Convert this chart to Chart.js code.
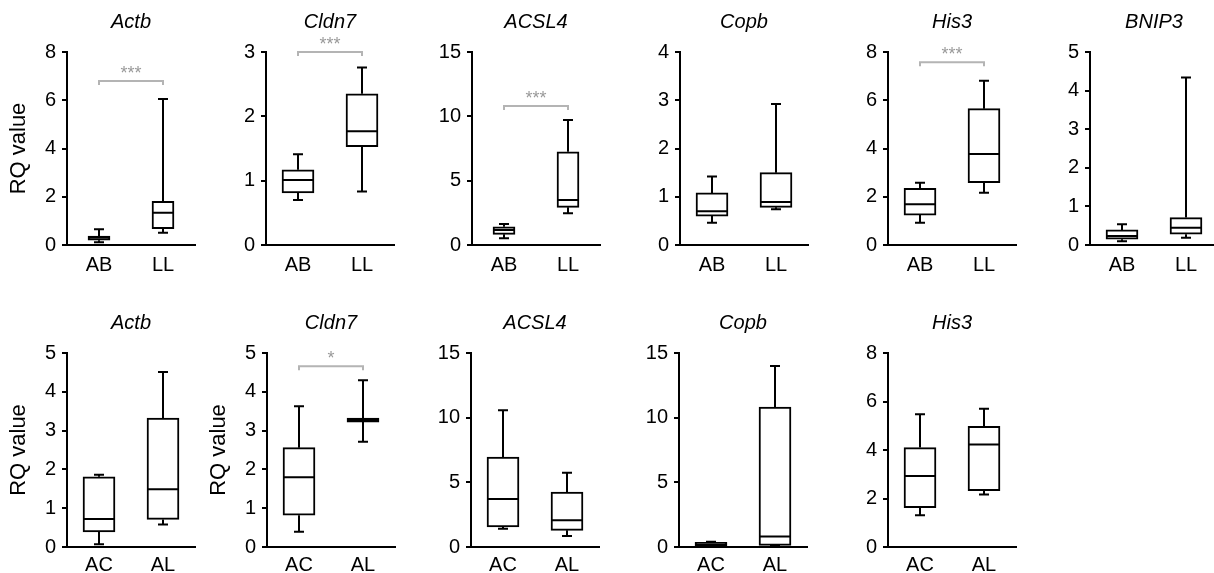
<!DOCTYPE html>
<html>
<head>
<meta charset="utf-8">
<script src="https://cdn.jsdelivr.net/npm/chart.js@4.4.1/dist/chart.umd.min.js"></script>
<style>
    body { margin: 0; background: #fff; width: 1214px; height: 573px; overflow: hidden; position: relative; }
    canvas { position: absolute; }
</style>
</head>
<body>
<script>
// top row: AB vs LL
var topGenes = ['Actb', 'Cldn7', 'ACSL4', 'Copb', 'His3', 'BNIP3'];
var topGroups = ['AB', 'LL'];
var topMax = [8, 3, 15, 4, 8, 5];
var topStep = [2, 1, 5, 1, 2, 1];
// box stats per gene: [min, q1, median, q3, max]
var topAB = [
    [0.11, 0.20, 0.30, 0.37, 0.65],
    [0.70, 0.81, 1.01, 1.17, 1.41],
    [0.52, 0.83, 1.17, 1.42, 1.63],
    [0.46, 0.60, 0.70, 1.08, 1.42],
    [0.92, 1.24, 1.69, 2.35, 2.58],
    [0.10, 0.15, 0.23, 0.39, 0.54]
];
var topLL = [
    [0.51, 0.68, 1.34, 1.81, 6.05],
    [0.83, 1.53, 1.77, 2.35, 2.76],
    [2.46, 2.93, 3.50, 7.25, 9.72],
    [0.74, 0.78, 0.89, 1.50, 2.92],
    [2.17, 2.58, 3.77, 5.65, 6.81],
    [0.19, 0.28, 0.45, 0.71, 4.34]
];
var topStars = ['***', '***', '***', '', '***', ''];
var topStarLevel = [6.8, 3.0, 10.8, null, 7.57, null];

// bottom row: AC vs AL
var botGenes = ['Actb', 'Cldn7', 'ACSL4', 'Copb', 'His3'];
var botGroups = ['AC', 'AL'];
var botMax = [5, 5, 15, 15, 8];
var botStep = [1, 1, 5, 5, 2];
var botAC = [
    [0.07, 0.39, 0.72, 1.81, 1.86],
    [0.39, 0.82, 1.80, 2.56, 3.63],
    [1.42, 1.55, 3.71, 6.96, 10.57],
    [0.08, 0.10, 0.20, 0.36, 0.40],
    [1.31, 1.62, 2.93, 4.10, 5.47]
];
var botAL = [
    [0.58, 0.71, 1.49, 3.32, 4.51],
    [2.71, 3.22, 3.27, 3.32, 4.30],
    [0.85, 1.29, 2.06, 4.25, 5.75],
    [0.08, 0.13, 0.82, 10.82, 14.0],
    [2.17, 2.32, 4.23, 4.98, 5.70]
];
var botStars = ['', '*', '', '', ''];
var botStarLevel = [null, 4.66, null, null, null];

// layout
var topAxisX = [67, 266, 472, 680, 888, 1090];
var topBoxW = [22, 32, 22, 32, 32, 32];
var botAxisX = [67, 267, 471, 679, 888];
var botBoxW = [32, 32, 32, 32, 32];

Chart.defaults.font.family = "'Liberation Sans', Arial, sans-serif";

var boxPlugin = {
    id: 'boxes',
    afterDatasetsDraw: function(chart) {
        var cfg = chart.options.plugins.boxes;
        var ctx = chart.ctx;
        var y = chart.scales.y;
        var bars = chart.getDatasetMeta(0).data;
        ctx.save();
        ctx.strokeStyle = '#000';
        ctx.lineWidth = 2;
        bars.forEach(function(bar, i) {
            var s = cfg.stats[i];
            var half = bar.width / 2;
            ctx.beginPath();
            // whiskers
            ctx.moveTo(bar.x, y.getPixelForValue(s[3]));
            ctx.lineTo(bar.x, y.getPixelForValue(s[4]));
            ctx.moveTo(bar.x, y.getPixelForValue(s[1]));
            ctx.lineTo(bar.x, y.getPixelForValue(s[0]));
            // caps
            ctx.moveTo(bar.x - 5, y.getPixelForValue(s[4]));
            ctx.lineTo(bar.x + 5, y.getPixelForValue(s[4]));
            ctx.moveTo(bar.x - 5, y.getPixelForValue(s[0]));
            ctx.lineTo(bar.x + 5, y.getPixelForValue(s[0]));
            // median
            ctx.moveTo(bar.x - half, y.getPixelForValue(s[2]));
            ctx.lineTo(bar.x + half, y.getPixelForValue(s[2]));
            ctx.stroke();
        });

        // significance bracket
        if (cfg.stars) {
            var by = y.getPixelForValue(cfg.starLevel);
            ctx.strokeStyle = '#b4b4b4';
            ctx.beginPath();
            ctx.moveTo(bars[0].x, by + 4);
            ctx.lineTo(bars[0].x, by);
            ctx.lineTo(bars[1].x, by);
            ctx.lineTo(bars[1].x, by + 4);
            ctx.stroke();
            ctx.fillStyle = '#9a9a9a';
            ctx.font = "18px 'Liberation Sans', Arial, sans-serif";
            ctx.textAlign = 'center';
            ctx.textBaseline = 'middle';
            ctx.fillText(cfg.stars, (bars[0].x + bars[1].x) / 2, by - 7);
        }

        // gene name
        var area = chart.chartArea;
        ctx.fillStyle = '#000';
        ctx.font = "italic 20px 'Liberation Sans', Arial, sans-serif";
        ctx.textAlign = 'center';
        ctx.textBaseline = 'middle';
        ctx.fillText(cfg.gene, (area.left + area.right) / 2, cfg.titleY);
        ctx.restore();
    }
};

function makePanel(p) {
    var c = document.createElement('canvas');
    c.width = 200;
    c.height = p.height;
    c.style.left = (p.axisX - 62) + 'px';
    c.style.top = p.top + 'px';
    document.body.appendChild(c);

    new Chart(c.getContext('2d'), {
        type: 'bar',
        data: {
            labels: p.groups,
            datasets: [{
                data: p.stats.map(function(s) { return [s[1], s[3]]; }),
                backgroundColor: '#fff',
                borderColor: '#000',
                borderWidth: 2,
                borderSkipped: false,
                barThickness: p.boxW
            }]
        },
        options: {
            responsive: false,
            animation: false,
            devicePixelRatio: 1,
            layout: { padding: { top: p.padTop, right: 10, left: 0, bottom: 0 } },
            plugins: {
                legend: { display: false },
                tooltip: { enabled: false },
                boxes: { stats: p.stats, gene: p.gene, titleY: p.titleY, stars: p.stars, starLevel: p.starLevel }
            },
            scales: {
                x: {
                    grid: { display: true, drawOnChartArea: false, drawTicks: false },
                    border: { color: '#000', width: 2 },
                    ticks: { color: '#000', font: { size: 20 }, padding: p.xPad },
                    afterFit: function(s) { s.height = p.xH; }
                },
                y: {
                    min: 0,
                    max: p.max,
                    ticks: { stepSize: p.step, color: '#000', font: { size: 20 }, padding: 6 },
                    grid: { drawOnChartArea: false, tickLength: 5, color: '#000', lineWidth: 2 },
                    border: { color: '#000', width: 2 },
                    title: { display: p.yTitle, text: 'RQ value', color: '#000', font: { size: 22 }, padding: { top: 1, bottom: 2 } },
                    afterFit: function(s) { s.width = 62; }
                }
            }
        },
        plugins: [boxPlugin]
    });
}

topGenes.forEach(function(g, i) {
    makePanel({
        gene: g, groups: topGroups, stats: [topAB[i], topLL[i]],
        max: topMax[i], step: topStep[i], stars: topStars[i], starLevel: topStarLevel[i],
        axisX: topAxisX[i], boxW: topBoxW[i], top: 0, height: 280, padTop: 52, xH: 35, xPad: 8,
        titleY: 22, yTitle: i === 0
    });
});

botGenes.forEach(function(g, i) {
    makePanel({
        gene: g, groups: botGroups, stats: [botAC[i], botAL[i]],
        max: botMax[i], step: botStep[i], stars: botStars[i], starLevel: botStarLevel[i],
        axisX: botAxisX[i], boxW: botBoxW[i], top: 285, height: 288, padTop: 68, xH: 26, xPad: 6,
        titleY: 38, yTitle: i < 2
    });
});
</script>
</body>
</html>
